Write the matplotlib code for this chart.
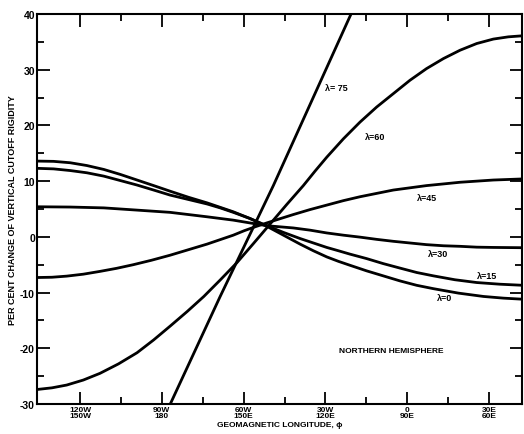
import matplotlib
matplotlib.use("Agg")
import matplotlib.pyplot as plt
from matplotlib.ticker import FixedLocator

plt.rcParams["font.family"] = ["Liberation Sans", "DejaVu Sans"]
plt.rcParams["font.weight"] = "bold"
plt.rcParams["axes.labelweight"] = "bold"

# geomagnetic longitude (deg, negative = W) and per cent change
lon_0 = [-135.8, -129.7, -123.6, -117.5, -111.3, -105.2, -99.1, -93.0, -87.0, -80.2,
         -73.4, -68.6, -63.8, -57.7, -51.5, -45.4, -39.3, -34.4, -29.5, -25.2,
         -21.0, -14.9, -8.8, -2.7, 3.5, 9.6, 18.8, 28.0, 35.3, 42.6]
val_0 = [13.6, 13.55, 13.3, 12.8, 12.1, 11.2, 10.2, 9.2, 8.2, 7.1,
         6.1, 5.3, 4.5, 3.3, 1.9, 0.3, -1.3, -2.5, -3.6, -4.4,
         -5.1, -6.1, -7.0, -7.9, -8.7, -9.3, -10.1, -10.7, -11.0, -11.2]

lon_15 = [-135.8, -129.7, -123.6, -117.5, -111.3, -105.2, -99.1, -93.0, -87.0, -80.2,
          -73.4, -68.6, -63.8, -57.7, -51.5, -45.4, -39.3, -34.4, -29.5, -25.2,
          -21.0, -14.9, -8.8, -2.7, 3.5, 9.6, 17.5, 25.5, 34.0, 42.6]
val_15 = [12.3, 12.2, 11.9, 11.5, 10.9, 10.1, 9.3, 8.4, 7.5, 6.7,
          5.9, 5.2, 4.4, 3.3, 2.0, 0.8, -0.3, -1.1, -1.9, -2.5,
          -3.1, -3.9, -4.8, -5.6, -6.4, -7.0, -7.7, -8.2, -8.5, -8.7]

lon_30 = [-135.8, -123.6, -111.3, -99.1, -87.0, -80.2, -73.4, -63.8, -57.7, -51.5,
          -41.8, -35.6, -29.5, -23.4, -17.3, -11.2, -5.1, 1.0, 7.1, 13.3,
          19.4, 25.5, 31.6, 42.6]
val_30 = [5.4, 5.35, 5.2, 4.8, 4.4, 4.0, 3.6, 3.0, 2.5, 2.0,
          1.6, 1.2, 0.7, 0.3, -0.05, -0.45, -0.8, -1.1, -1.4, -1.6,
          -1.7, -1.85, -1.9, -1.95]

lon_45 = [-135.8, -130.3, -124.9, -118.8, -112.7, -106.6, -100.5, -93.8, -87.0, -80.2,
          -73.4, -68.6, -63.8, -59.8, -55.8, -51.5, -47.0, -41.8, -35.6, -29.5,
          -23.4, -17.3, -11.2, -5.1, 1.0, 7.1, 13.3, 19.4, 25.5, 31.6, 42.6]
val_45 = [-7.3, -7.25, -7.05, -6.7, -6.2, -5.65, -5.0, -4.2, -3.3, -2.3,
          -1.3, -0.5, 0.3, 1.1, 1.8, 2.5, 3.2, 4.0, 4.9, 5.7,
          6.5, 7.2, 7.8, 8.4, 8.8, 9.2, 9.5, 9.8, 10.0, 10.2, 10.4]

lon_60 = [-135.8, -130.3, -124.9, -118.8, -112.7, -105.9, -99.1, -93.0, -86.9, -80.7,
          -74.6, -68.5, -62.4, -56.4, -50.3, -44.2, -38.1, -33.8, -29.5, -23.4,
          -17.3, -11.2, -5.1, 1.0, 7.1, 13.3, 19.4, 25.5, 31.6, 37.1, 42.6]
val_60 = [-27.4, -27.1, -26.6, -25.7, -24.5, -22.8, -20.8, -18.5, -16.0, -13.4,
          -10.7, -7.7, -4.6, -1.2, 2.3, 5.8, 9.2, 11.8, 14.3, 17.6,
          20.6, 23.3, 25.7, 28.1, 30.2, 32.0, 33.5, 34.7, 35.5, 35.9, 36.1]

lon_75 = [-86.9, -68.7, -49.1, -20.6]
val_75 = [-30.0, -10.8, 9.2, 40.0]

series = [(lon_0, val_0), (lon_15, val_15), (lon_30, val_30),
          (lon_45, val_45), (lon_60, val_60), (lon_75, val_75)]

curve_labels = ["\u03bb=0", "\u03bb=15", "\u03bb=30", "\u03bb=45", "\u03bb=60", "\u03bb= 75"]
label_x = [13.9, 29.3, 11.3, 7.3, -11.8, -26.1]
label_y = [-10.9, -6.9, -2.9, 7.0, 18.1, 26.8]

xticks = [-120, -90, -60, -30, 0, 30]
xticklabels = ["120W\n150W", "90W\n180", "60W\n150E", "30W\n120E", "0\n90E", "30E\n60E"]
yticks = [-30, -20, -10, 0, 10, 20, 30, 40]

fig = plt.figure(figsize=(5.24, 4.35), dpi=100)
ax = fig.add_axes([0.0706, 0.069, 0.926, 0.8965])

for lon, val in series:
    ax.plot(lon, val, color="black", lw=2.0, solid_capstyle="round", solid_joinstyle="round")

for txt, x, y in zip(curve_labels, label_x, label_y):
    ax.text(x, y, txt, fontsize=6.5, ha="center", va="center")

ax.text(-5.9, -20.4, "NORTHERN HEMISPHERE", fontsize=6, ha="center", va="center")

ax.set_xlim(-135.8, 42.2)
ax.set_ylim(-30, 40)
ax.set_xticks(xticks)
ax.set_xticklabels(xticklabels, fontsize=6, linespacing=0.85)
ax.xaxis.set_minor_locator(FixedLocator([-105, -75, -45, -15, 15]))
ax.set_yticks(yticks)
ax.set_yticklabels([str(v) for v in yticks], fontsize=7.5)
ax.yaxis.set_minor_locator(FixedLocator([-25, -15, -5, 5, 15, 25, 35]))

ax.tick_params(which="both", direction="in", top=True, right=True, width=1.3)
ax.tick_params(which="major", length=9, pad=1.5)
ax.tick_params(which="minor", length=5)
for s in ax.spines.values():
    s.set_linewidth(1.5)

ax.set_xlabel("GEOMAGNETIC LONGITUDE, \u03d5", fontsize=6, labelpad=1)
ax.set_ylabel("PER CENT CHANGE OF VERTICAL CUTOFF RIGIDITY", fontsize=6.5, labelpad=2)

fig.savefig("out.png", dpi=100)
